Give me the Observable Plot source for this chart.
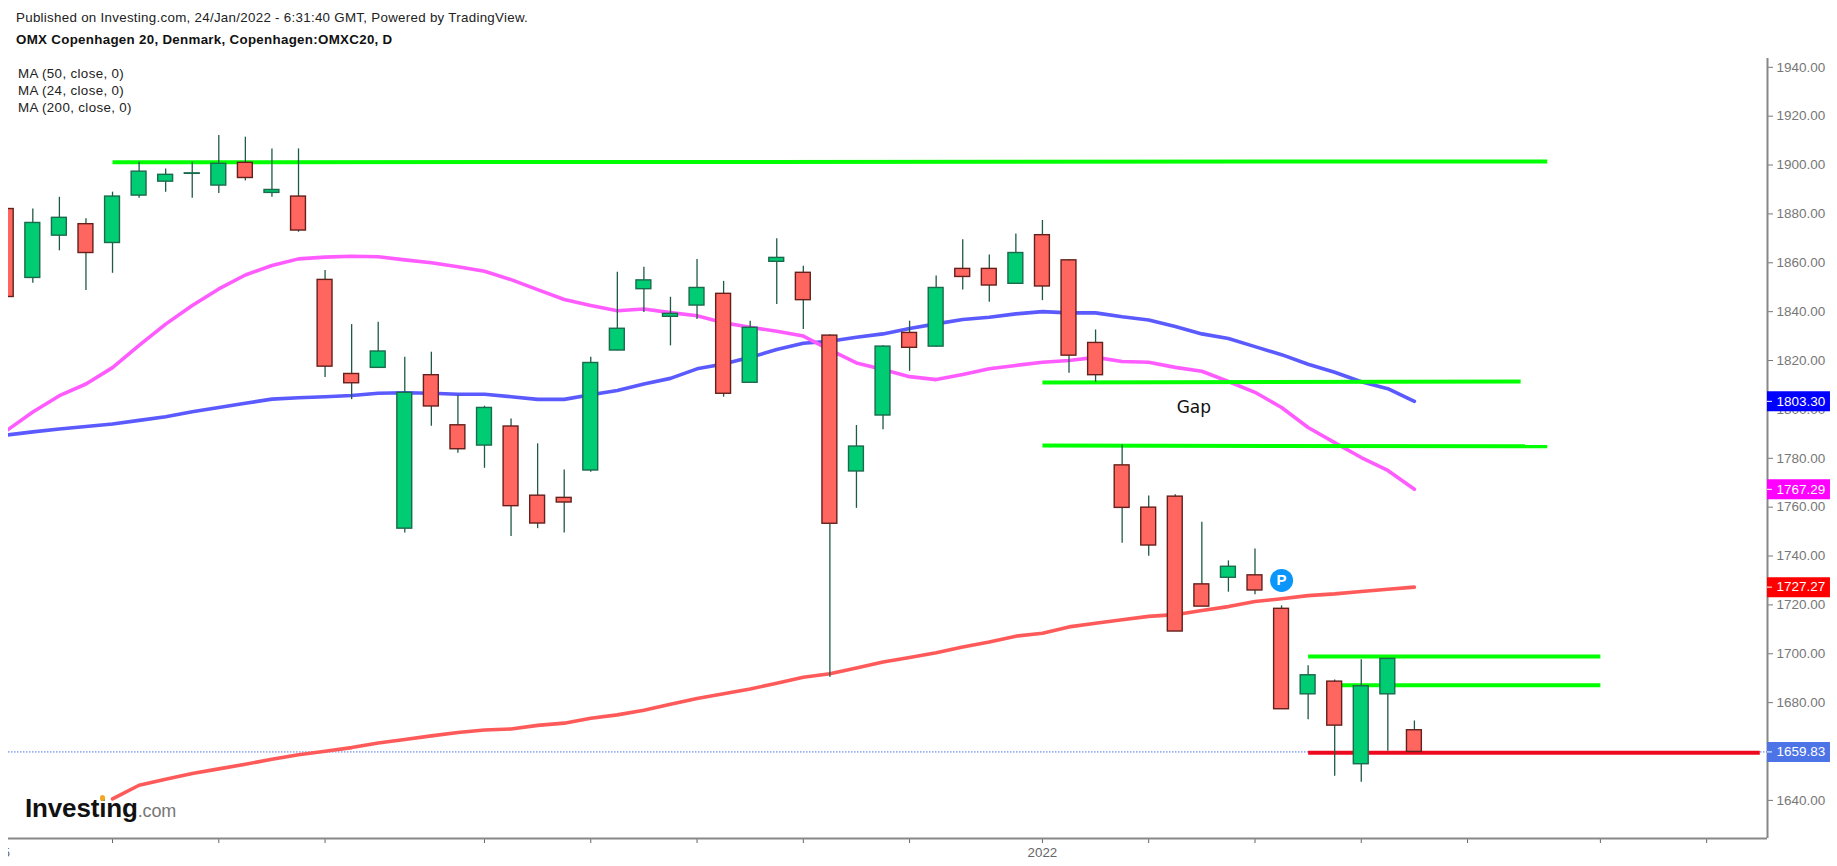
<!DOCTYPE html>
<html>
<head>
<meta charset="utf-8">
<script src="https://cdn.jsdelivr.net/npm/d3@7"></script>
<script src="https://cdn.jsdelivr.net/npm/@observablehq/plot@0.6"></script>
<style>
html,body{margin:0;padding:0;background:#fff;overflow:hidden;font-family:"Liberation Sans",Arial,sans-serif;}
#page{position:relative;width:1837px;height:866px;}
.abs{position:absolute;white-space:nowrap;line-height:16px;}
#chart{position:absolute;left:8px;top:48px;}
</style>
</head>
<body>
<div id="page">
  <div id="chart"></div>
  <div class="abs" id="pub" style="left:16px;top:10px;font-size:13.33px;color:#222;letter-spacing:.29px">Published on Investing.com, 24/Jan/2022 - 6:31:40 GMT, Powered by TradingView.</div>
  <div class="abs" id="ttl" style="left:16px;top:32px;font-size:13.33px;font-weight:bold;color:#111;letter-spacing:.3px">OMX Copenhagen 20, Denmark, Copenhagen:OMXC20, D</div>
  <div class="abs" style="left:18px;top:66px;font-size:13.33px;color:#222;letter-spacing:.36px">MA (50, close, 0)</div>
  <div class="abs" style="left:18px;top:83px;font-size:13.33px;color:#222;letter-spacing:.36px">MA (24, close, 0)</div>
  <div class="abs" style="left:18px;top:100px;font-size:13.33px;color:#222;letter-spacing:.36px">MA (200, close, 0)</div>
  <div class="abs" style="left:25px;top:795px;line-height:26px;font-size:26px;font-weight:bold;color:#111;letter-spacing:-.15px">Investing<span style="font-size:18px;font-weight:normal;color:#777;letter-spacing:-.2px">.com</span></div>
  <div class="abs" style="left:100px;top:795px;width:5px;height:6px;border-radius:3px;background:#f5a623"></div>
</div>
<script>
const opens  = [1882,1853.8,1871.1,1875.8,1868.1,1887.5,1893.2,1896.4,1891.6,1900.9,1888.6,1887.1,1853,1814.5,1817,1751.2,1814,1793.5,1785.2,1793,1764.7,1763.8,1775,1824.1,1849.2,1837.9,1842.5,1847.3,1810.9,1860.4,1855.9,1830.2,1774.6,1797.5,1831.3,1825.7,1857.5,1857.5,1851.4,1871.3,1861,1827.2,1777.1,1759.8,1764.3,1728.4,1731.1,1732.1,1718.4,1683.4,1688.6,1654.8,1683.4,1668.7];
const highs  = [1882,1882,1886.8,1878,1888.9,1901.1,1898.4,1901.1,1912.1,1911.4,1906.6,1906.6,1856.8,1834.7,1835.7,1821.3,1823.4,1805.7,1801.3,1796.1,1785.9,1775.2,1821.3,1856.1,1858.2,1845.9,1861.3,1852.4,1836.1,1869.8,1858.6,1830.5,1793.4,1826,1836.1,1854.6,1869.4,1863.2,1871.8,1877.3,1861.2,1832.5,1785.4,1764.6,1765.1,1753.8,1738,1742.9,1719.6,1695.1,1689.3,1697.5,1697.9,1672.5];
const lows   = [1846,1851.6,1864.9,1848.7,1855.7,1886.4,1888.9,1886.4,1888.4,1893.5,1886.8,1872.5,1813.1,1804,1817,1749.4,1793.1,1782.1,1775.9,1748,1751.2,1749.4,1774.3,1824,1839.7,1826,1836.8,1805,1810.9,1842.9,1832.7,1690.4,1759.5,1791.7,1815.6,1825.4,1848.9,1843.8,1851.4,1844.5,1814.8,1811.1,1745.2,1739.9,1709.1,1719.3,1725.2,1724.2,1677.3,1673,1649.9,1647.4,1660.1,1659.83];
const closes = [1846,1876.3,1878.4,1864,1887.1,1897.3,1896,1896.6,1900.5,1894.7,1889.8,1873.2,1817.5,1810.7,1823.7,1806.8,1801.2,1783.7,1800.6,1760.4,1753.3,1761.9,1819,1833,1852.8,1839.1,1849.7,1806.4,1833.4,1862,1844.7,1753.2,1784.8,1825.7,1825.2,1849.7,1854.2,1850.7,1864,1850.3,1822,1814,1759.7,1744.3,1709.1,1719.3,1735.6,1725.9,1677.3,1691.2,1670.6,1686.7,1697.9,1659.83];

const ma50  = [1789.5,1790.8,1792,1793,1794,1795.5,1797,1799,1800.8,1802.5,1804.2,1804.8,1805.2,1805.7,1806.6,1806.8,1806.6,1806.2,1806.2,1805.2,1804.1,1804.1,1806,1807.7,1810.4,1812.7,1816.6,1818.6,1821.3,1824.5,1827.1,1827.9,1829.5,1830.9,1833.1,1835,1836.8,1837.7,1839.1,1840,1839.5,1839.5,1837.9,1836.6,1833.9,1830.9,1829,1825.7,1822.4,1818.5,1815.2,1811.3,1808.5,1803.3];
const ma24  = [1791.2,1798.9,1805.6,1810.4,1817.1,1826.2,1834.9,1842.5,1849.3,1855,1858.9,1861.6,1862.3,1862.7,1862.5,1861.2,1860,1858.4,1856.5,1853.1,1849,1845,1842.5,1840.4,1841.1,1839.6,1838.3,1835.5,1833.6,1832,1830,1824.4,1819,1816.3,1813.4,1812.2,1814.3,1816.6,1818,1819.3,1820,1821.3,1819.6,1819.3,1817.2,1815.6,1811.4,1807,1800.8,1792.6,1786.4,1780.3,1775,1767.29];
const ma200Start = 4;
const ma200 = [1640.6,1646.2,1648.6,1651,1652.9,1654.8,1656.8,1658.7,1660.1,1661.6,1663.5,1664.9,1666.4,1667.8,1668.8,1669.2,1670.7,1671.6,1673.6,1675,1676.9,1679.3,1681.7,1683.6,1685.6,1687.9,1690.4,1691.8,1694.2,1696.6,1698.5,1700.4,1702.8,1704.8,1707.2,1708.4,1711,1712.5,1713.9,1715.3,1716,1717.7,1719.3,1721.4,1722.5,1723.8,1724.5,1725.5,1726.4,1727.27];

const levelFrom  = [4,39,39,49,50,49];
const levelTo    = [58,57,58,60,60,66];
const levelStart = [1901.1,1811,1785.2,1698.9,1687.1,1659.5];
const levelEnd   = [1901.5,1811.4,1784.9,1698.9,1687.1,1659.5];
const levelColor = ["#00ff00","#00ff00","#00ff00","#00ff00","#00ff00","#ee0a1e"];

const priceTicks = [1940,1920,1900,1880,1860,1840,1820,1800,1780,1760,1740,1720,1700,1680,1640];
const timeTicks  = [0,4,8,12,18,22,26,30,34,39,43,47,51,55,60,64];
const timeLabels = new Map([[0,"5"],[39,"2022"]]);
const lastValues = [1803.30,1767.29,1727.27,1659.83];
const lastColors = ["#0000ff","#ff00ff","#ff0000","#4d74e6"];
const lastPrice  = 1659.83;

const idx = opens.map((d,i)=>i);
const X0 = 0.0847, X1 = 66.29, XBOX = 68.66, XTICK = 66.48, XTEXT = 66.63;
const Y0 = 1624.4, Y1 = 1943.6;
const up = i => closes[i] >= opens[i];

const chart = Plot.plot({
  width: 1829, height: 818,
  marginLeft: 0, marginRight: 70, marginTop: 10, marginBottom: 28,
  style: {overflow:"hidden", background:"transparent", fontFamily:"Liberation Sans, Arial, sans-serif"},
  x: {domain:[X0,X1], axis:null},
  y: {domain:[Y0,Y1], axis:null},
  marks: [
    Plot.axisY({anchor:"right", ticks:priceTicks, label:null, tickFormat:d=>d.toFixed(2), tickSize:5, tickPadding:4, fontSize:13.5, color:"#777"}),
    Plot.axisX({anchor:"bottom", ticks:timeTicks, label:null, tickFormat:d=>timeLabels.get(d) ?? "", tickSize:5, tickPadding:4, fontSize:13.33, color:"#666"}),
    Plot.ruleX([X1], {stroke:"#888", strokeWidth:2}),
    Plot.ruleY([Y0], {stroke:"#888", strokeWidth:2}),
    Plot.ruleY([lastPrice], {stroke:"#4d74e6", strokeWidth:1, strokeDasharray:"1.5,1.5"}),
    Plot.lineY(ma50, {x:(d,i)=>i, y:d=>d, stroke:"#5a5aff", strokeWidth:3.6}),
    Plot.lineY(ma24, {x:(d,i)=>i, y:d=>d, stroke:"#ff5cff", strokeWidth:3.6}),
    Plot.lineY(ma200, {x:(d,i)=>i+ma200Start, y:d=>d, stroke:"#ff5a5a", strokeWidth:3.6}),
    Plot.link(levelFrom.map((d,i)=>i), {x1:i=>levelFrom[i], x2:i=>levelTo[i], y1:i=>levelStart[i], y2:i=>levelEnd[i], stroke:i=>levelColor[i], strokeWidth:4}),
    Plot.ruleX(idx, {x:i=>i, y1:i=>lows[i], y2:i=>highs[i], stroke:"#1f5a44", strokeWidth:1.3}),
    Plot.rect(idx, {x1:i=>i-0.28, x2:i=>i+0.28, y1:i=>opens[i], y2:i=>closes[i],
      fill:i=>up(i)?"#00cc74":"#ff6660", stroke:i=>up(i)?"#1a6a4c":"#64201b", strokeWidth:1.4}),
    Plot.ruleY(lastValues, {x1:X1, x2:XBOX, stroke:(d,i)=>lastColors[i], strokeWidth:20}),
    Plot.ruleY(lastValues, {x1:X1, x2:XTICK, stroke:"#fff", strokeWidth:1}),
    Plot.text(lastValues, {x:XTEXT, y:d=>d, text:d=>d.toFixed(2), fill:"#fff", textAnchor:"start", fontSize:13.5}),
    Plot.dot([48], {x:d=>d, y:[1730], r:11.5, fill:"#0a96fa"}),
    Plot.text([48], {x:d=>d, y:[1730], text:["P"], fill:"#fff", fontWeight:"bold", fontSize:15}),
    Plot.text(["Gap"], {x:[44.7], y:[1800.8], text:d=>d, fill:"#111", fontSize:17, fontFamily:"DejaVu Sans"})
  ]
});
document.getElementById("chart").appendChild(chart);
</script>
</body>
</html>
